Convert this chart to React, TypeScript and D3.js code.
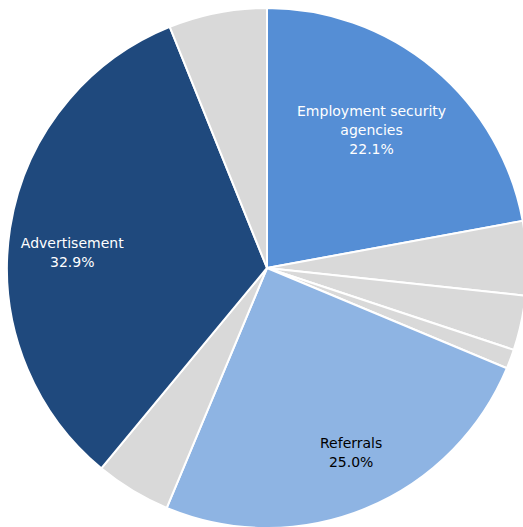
import React from "react";
import * as d3 from "d3";

const categories = [
  "Employment security agencies",
  "Other A",
  "Other B",
  "Other C",
  "Referrals",
  "Other D",
  "Advertisement",
  "Other E",
];
const values = [22.1, 4.6, 3.4, 1.2, 25.0, 4.7, 32.9, 6.1];
const colors = ["#558ed5", "#d9d9d9", "#d9d9d9", "#d9d9d9", "#8eb4e3", "#d9d9d9", "#1f497d", "#d9d9d9"];
const labelLines: (string[] | null)[] = [
  ["Employment security", "agencies", "22.1%"],
  null,
  null,
  null,
  ["Referrals", "25.0%"],
  null,
  ["Advertisement", "32.9%"],
  null,
];
const labelColors = ["#ffffff", "", "", "", "#000000", "", "#ffffff", ""];
// nudges from the arc centroid (label placement)
const labelNudge: [number, number][] = [
  [-17, 8], [0, 0], [0, 0], [0, 0], [12, 9], [0, 0], [-7, 14], [0, 0],
];

const W = 523;
const H = 527;
const cx = 267;
const cy = 268;
const R = 260;

export default function App() {
  const data = values.map((v, i) => ({ v, i, name: categories[i] }));
  const pie = d3.pie<{ v: number; i: number; name: string }>().value((d) => d.v).sort(null);
  const arcs = pie(data);
  const arc = d3.arc<d3.PieArcDatum<{ v: number; i: number; name: string }>>().innerRadius(0).outerRadius(R);
  const labelArc = d3.arc<d3.PieArcDatum<{ v: number; i: number; name: string }>>().innerRadius(190).outerRadius(190);
  const lh = 19;
  return (
    <svg
      width={W}
      height={H}
      style={{ position: "fixed", left: 0, top: 0, background: "#fff" }}
      fontFamily="'DejaVu Sans', Verdana, sans-serif"
      fontSize={14}
    >
      <g transform={`translate(${cx},${cy})`}>
        {arcs.map((a) => (
          <path key={a.index} d={arc(a) || ""} fill={colors[a.index]} stroke="#fff" strokeWidth={2} strokeLinejoin="round" />
        ))}
        {arcs.map((a) => {
          const lines = labelLines[a.index];
          if (!lines) return null;
          const [x, y] = labelArc.centroid(a);
          const [nx, ny] = labelNudge[a.index];
          const n = lines.length;
          return (
            <text key={"t" + a.index} textAnchor="middle" fill={labelColors[a.index]}>
              {lines.map((l, j) => (
                <tspan key={j} x={x + nx} y={y + ny + (j - (n - 1) / 2) * lh + 5}>
                  {l}
                </tspan>
              ))}
            </text>
          );
        })}
      </g>
    </svg>
  );
}
